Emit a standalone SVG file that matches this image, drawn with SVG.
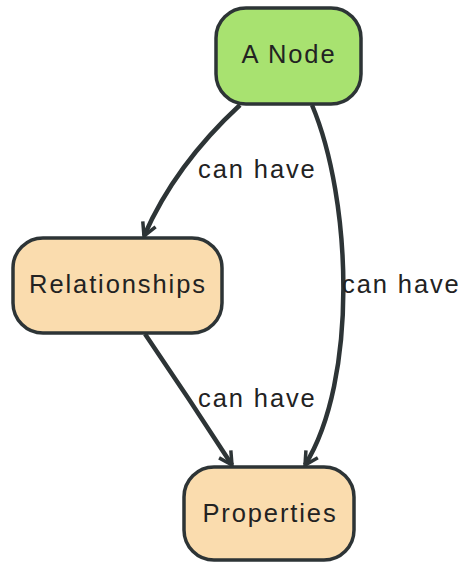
<svg xmlns="http://www.w3.org/2000/svg" width="464" height="562" viewBox="0 0 464 562">
<defs>
<style>
.node rect{stroke:#2d3436;stroke-width:3.5}
.node text,.label{font-family:"Liberation Sans",Arial,sans-serif;font-size:25.5px;letter-spacing:1.9px;fill:#222;text-anchor:middle}
.label{text-anchor:start}
.edge{fill:none;stroke:#2d3436;stroke-width:4.5;marker-end:url(#arr)}
</style>
<marker id="arr" viewBox="0 0 18 18" refX="15" refY="9" markerWidth="18" markerHeight="18" markerUnits="userSpaceOnUse" orient="auto">
<path d="M2,2 L15,9 L2,16" fill="none" stroke="#2d3436" stroke-width="3.5" stroke-linejoin="miter"/>
</marker>
</defs>
<rect width="464" height="562" fill="#fff"/>
<g id="connectors">
<path class="edge" d="M240,105 Q175,165 144,236"/>
<path class="edge" d="M312,105 C352,200 358,380 305,465"/>
<path class="edge" d="M145,334 Q190,400 232,465"/>
<text class="label" x="198" y="178">can have</text>
<text class="label" x="342" y="293">can have</text>
<text class="label" x="198" y="407">can have</text>
</g>
<g id="node-a" class="node">
<rect x="216" y="8" width="145" height="96" rx="30" fill="#a8e270"/>
<text x="289" y="63">A Node</text>
</g>
<g id="node-relationships" class="node">
<rect x="13" y="238" width="209" height="95" rx="30" fill="#fadcae"/>
<text x="118" y="293">Relationships</text>
</g>
<g id="node-properties" class="node">
<rect x="184" y="467" width="170" height="93" rx="30" fill="#fadcae"/>
<text x="270" y="522">Properties</text>
</g>
</svg>
